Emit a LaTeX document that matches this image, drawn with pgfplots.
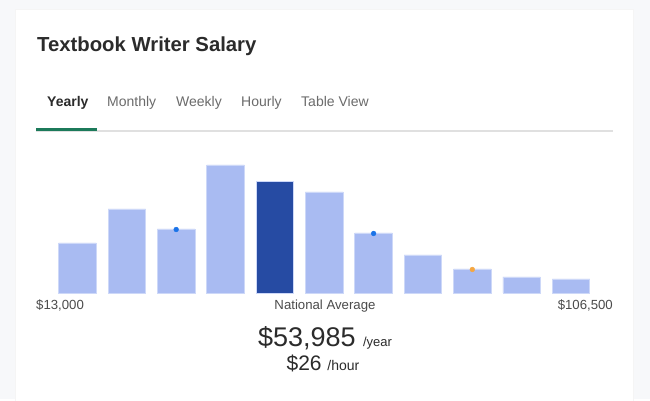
\documentclass[border=0pt]{standalone}
\usepackage{pgfplots}
\pgfplotsset{compat=1.18}
\usepackage{fontspec}
\setmainfont{Liberation Sans}
\definecolor{bg}{HTML}{F7F8FA}
\definecolor{barlight}{HTML}{A9BBF2}
\definecolor{baredge}{HTML}{CDD8F8}
\definecolor{bardark}{HTML}{264BA3}
\definecolor{dotblue}{HTML}{1A73E8}
\definecolor{dotorange}{HTML}{F5A742}
\definecolor{txtdark}{HTML}{2B2B2B}
\definecolor{txtgray}{HTML}{6B6B6B}
\definecolor{tabgreen}{HTML}{1C7A5A}
\definecolor{linegray}{HTML}{E0E0E0}
\begin{document}
\begin{tikzpicture}[x=1pt,y=1pt]
\fill[bg] (0,0) rectangle (650,399);
\fill[black!4] (15,-2) rectangle (634,390);
\fill[white] (16,-2) rectangle (633,389);
% title
\node[anchor=base west,inner sep=0pt,text=txtdark,font=\fontsize{20.3}{23}\selectfont\bfseries] at (37,347) {Textbook Writer Salary};
% tabs
\begin{scope}[every node/.style={anchor=base west,inner sep=0pt,font=\fontsize{14}{16}\selectfont}]
\node[text=txtdark,font=\fontsize{14}{16}\selectfont\bfseries] at (47,292) {Yearly};
\node[text=txtgray] at (107,292) {Monthly};
\node[text=txtgray] at (176,292) {Weekly};
\node[text=txtgray] at (241,292) {Hourly};
\node[text=txtgray] at (301,292) {Table View};
\end{scope}
\fill[linegray] (36,267) rectangle (613,268.5);
\fill[tabgreen] (36,268) rectangle (97,271);
% chart
\begin{axis}[
  at={(52.8pt,106pt)}, anchor=south west,
  width=542.9pt, height=140pt, scale only axis,
  xmin=-0.5, xmax=10.5, ymin=0, ymax=140,
  axis lines=none, ticks=none, clip=false,
  ybar, bar width=0.76, bar shift=0pt,
]
\addplot[fill=barlight, draw=baredge, line width=0.8pt] coordinates {
 (0,50) (1,84) (2,64) (3,128) (5,101) (6,60) (7,38) (8,24) (9,16) (10,14)};
\addplot[fill=bardark, draw=baredge, line width=0.8pt] coordinates {(4,112)};
\addplot[only marks, mark=*, mark size=2.4pt, color=dotblue] coordinates {(2,63.5) (6,59.5)};
\addplot[only marks, mark=*, mark size=2.4pt, color=dotorange] coordinates {(8,23.5)};
\end{axis}
% labels
\begin{scope}[every node/.style={inner sep=0pt,text=txtdark!85,font=\fontsize{13.2}{15}\selectfont}]
\node[anchor=base west] at (36,89) {\$13,000};
\node[anchor=base] at (325,89) {National Average};
\node[anchor=base east] at (613,89) {\$106,500};
\end{scope}
\node[anchor=base,inner sep=0pt,text=txtdark] at (325,52) {\fontsize{27}{30}\selectfont\$53,985\ \fontsize{13}{15}\selectfont/year};
\node[anchor=base,inner sep=0pt,text=txtdark] at (323,28) {\fontsize{21}{24}\selectfont\$26\ \fontsize{14}{16}\selectfont/hour};
\end{tikzpicture}
\end{document}
